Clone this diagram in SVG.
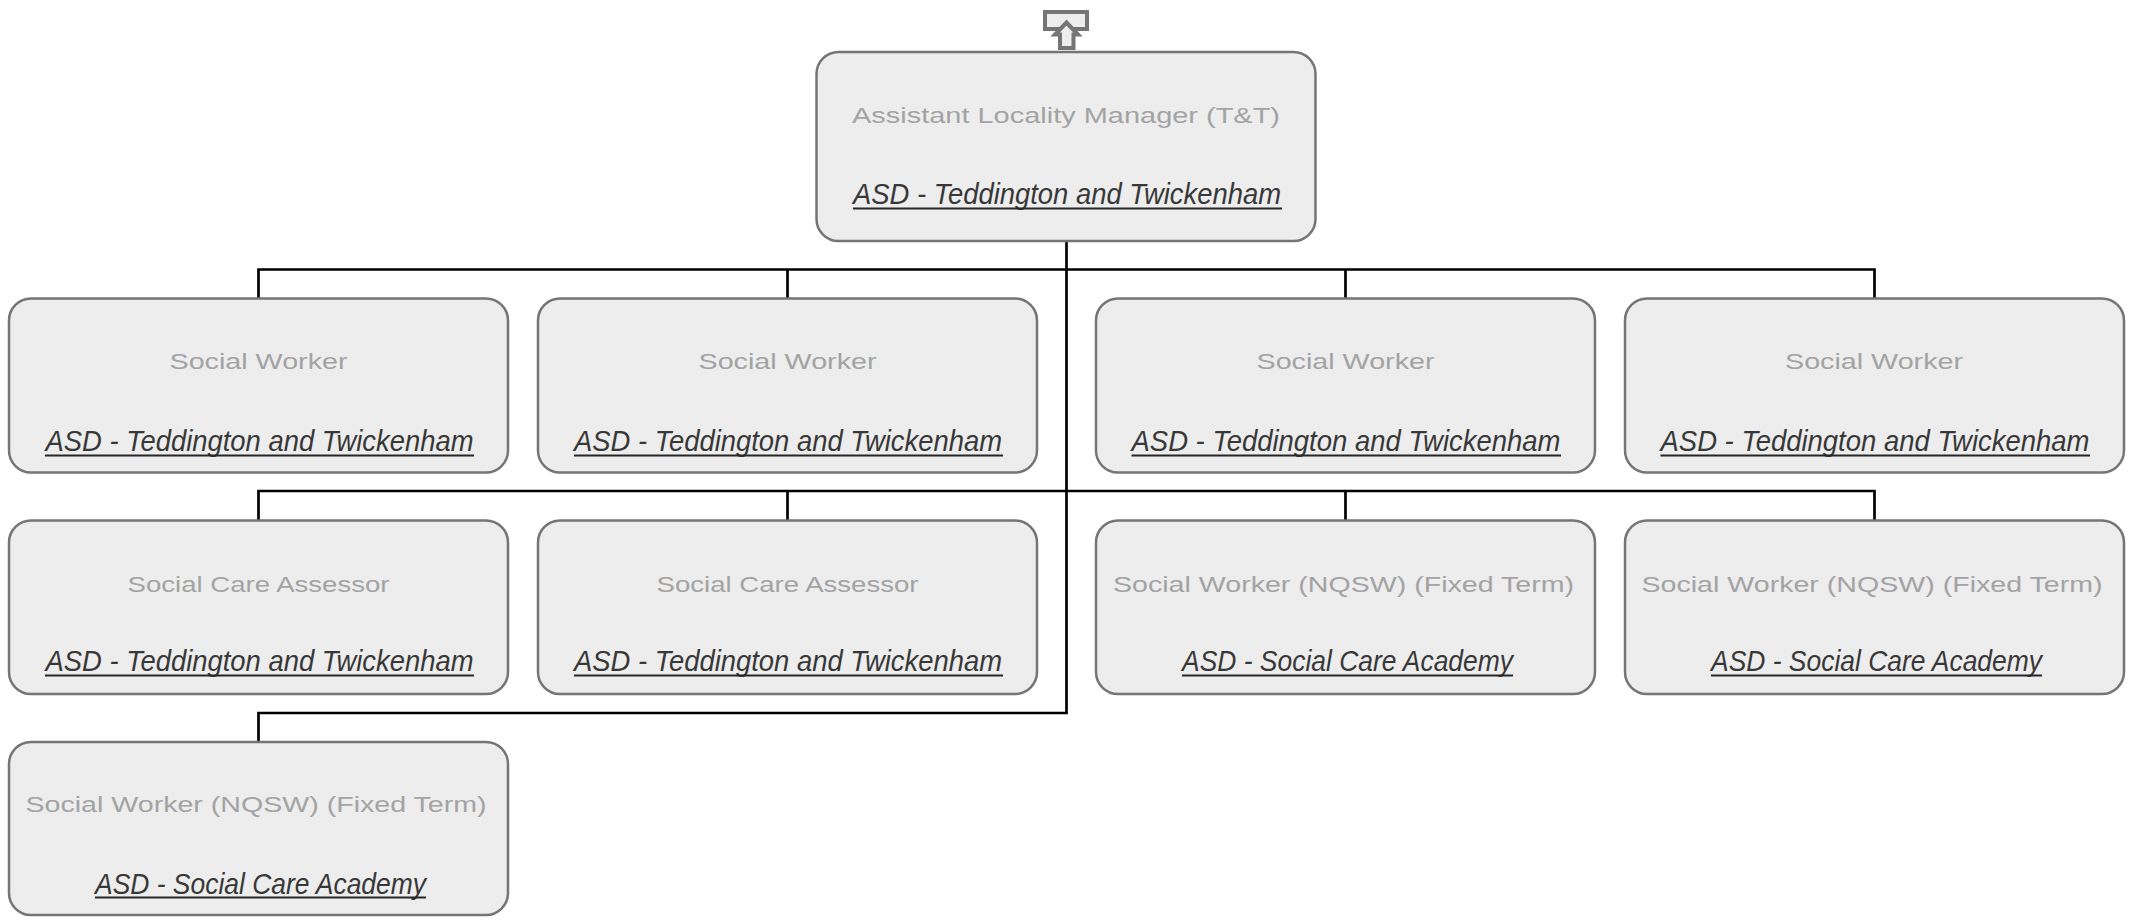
<svg xmlns="http://www.w3.org/2000/svg" width="2134" height="923" viewBox="0 0 2134 923">
<style>
.box{fill:#ededed;stroke:#757575;stroke-width:2.5}
.t{font-family:"Liberation Sans",Arial,sans-serif;font-size:22px;fill:#a3a3a3;text-anchor:middle}
.s{font-family:"Liberation Sans",Arial,sans-serif;font-size:30px;font-style:italic;fill:#383838;text-anchor:middle}
.u{stroke:#262626;stroke-width:2;fill:none}
.c{fill:none;stroke:#000;stroke-width:2.7}
</style>
<g id="connectors">
<path class="c" d="M1066.500 241V713H258.500V742"/>
<path class="c" d="M258.500 298V269.500H1874.500V298M787.500 269.500V298M1345.500 269.500V298"/>
<path class="c" d="M258.500 520V491H1874.500V520M787.500 491V520M1345.500 491V520"/>
</g>
<g id="up"><rect x="1045" y="12" width="42" height="17" fill="#ededed" stroke="#757575" stroke-width="4"/><path d="M1060 48V34.500H1055L1066.500 22.500L1078 34.500H1073.500V48Z" fill="#ededed" stroke="#757575" stroke-width="4"/></g>
<g id="root"><rect class="box" x="816.500" y="52" width="499" height="189" rx="22"/><text class="t" x="1066" y="123" textLength="428" lengthAdjust="spacingAndGlyphs">Assistant Locality Manager (T&amp;T)</text><text class="s" x="1067" y="204" textLength="428" lengthAdjust="spacingAndGlyphs">ASD - Teddington and Twickenham</text><path class="u" d="M853 208.500H1282"/></g>
<g id="n1"><rect class="box" x="9" y="298.500" width="499" height="174" rx="22"/><text class="t" x="258.500" y="369" textLength="178" lengthAdjust="spacingAndGlyphs">Social Worker</text><text class="s" x="259.500" y="451" textLength="428" lengthAdjust="spacingAndGlyphs">ASD - Teddington and Twickenham</text><path class="u" d="M45 455.500H474"/></g>
<g id="n2"><rect class="box" x="538" y="298.500" width="499" height="174" rx="22"/><text class="t" x="787.500" y="369" textLength="178" lengthAdjust="spacingAndGlyphs">Social Worker</text><text class="s" x="788" y="451" textLength="428" lengthAdjust="spacingAndGlyphs">ASD - Teddington and Twickenham</text><path class="u" d="M574 455.500H1003"/></g>
<g id="n3"><rect class="box" x="1096" y="298.500" width="499" height="174" rx="22"/><text class="t" x="1345.500" y="369" textLength="178" lengthAdjust="spacingAndGlyphs">Social Worker</text><text class="s" x="1346" y="451" textLength="429" lengthAdjust="spacingAndGlyphs">ASD - Teddington and Twickenham</text><path class="u" d="M1131.500 455.500H1561"/></g>
<g id="n4"><rect class="box" x="1625" y="298.500" width="499" height="174" rx="22"/><text class="t" x="1874" y="369" textLength="178" lengthAdjust="spacingAndGlyphs">Social Worker</text><text class="s" x="1875" y="451" textLength="429" lengthAdjust="spacingAndGlyphs">ASD - Teddington and Twickenham</text><path class="u" d="M1660.500 455.500H2090"/></g>
<g id="n5"><rect class="box" x="9" y="520.500" width="499" height="173.500" rx="22"/><text class="t" x="258.500" y="592" textLength="262" lengthAdjust="spacingAndGlyphs">Social Care Assessor</text><text class="s" x="259.500" y="671" textLength="428" lengthAdjust="spacingAndGlyphs">ASD - Teddington and Twickenham</text><path class="u" d="M45 675.500H474"/></g>
<g id="n6"><rect class="box" x="538" y="520.500" width="499" height="173.500" rx="22"/><text class="t" x="787.500" y="592" textLength="262" lengthAdjust="spacingAndGlyphs">Social Care Assessor</text><text class="s" x="788" y="671" textLength="428" lengthAdjust="spacingAndGlyphs">ASD - Teddington and Twickenham</text><path class="u" d="M574 675.500H1003"/></g>
<g id="n7"><rect class="box" x="1096" y="520.500" width="499" height="173.500" rx="22"/><text class="t" x="1343.500" y="592" textLength="461" lengthAdjust="spacingAndGlyphs">Social Worker (NQSW) (Fixed Term)</text><text class="s" x="1347.500" y="671" textLength="331" lengthAdjust="spacingAndGlyphs">ASD - Social Care Academy</text><path class="u" d="M1182 675.500H1513"/></g>
<g id="n8"><rect class="box" x="1625" y="520.500" width="499" height="173.500" rx="22"/><text class="t" x="1872" y="592" textLength="461" lengthAdjust="spacingAndGlyphs">Social Worker (NQSW) (Fixed Term)</text><text class="s" x="1876.500" y="671" textLength="331" lengthAdjust="spacingAndGlyphs">ASD - Social Care Academy</text><path class="u" d="M1711 675.500H2042"/></g>
<g id="n9"><rect class="box" x="9" y="742" width="499" height="173" rx="22"/><text class="t" x="256" y="812" textLength="461" lengthAdjust="spacingAndGlyphs">Social Worker (NQSW) (Fixed Term)</text><text class="s" x="260.500" y="894" textLength="331" lengthAdjust="spacingAndGlyphs">ASD - Social Care Academy</text><path class="u" d="M95 897.500H426"/></g>
</svg>
